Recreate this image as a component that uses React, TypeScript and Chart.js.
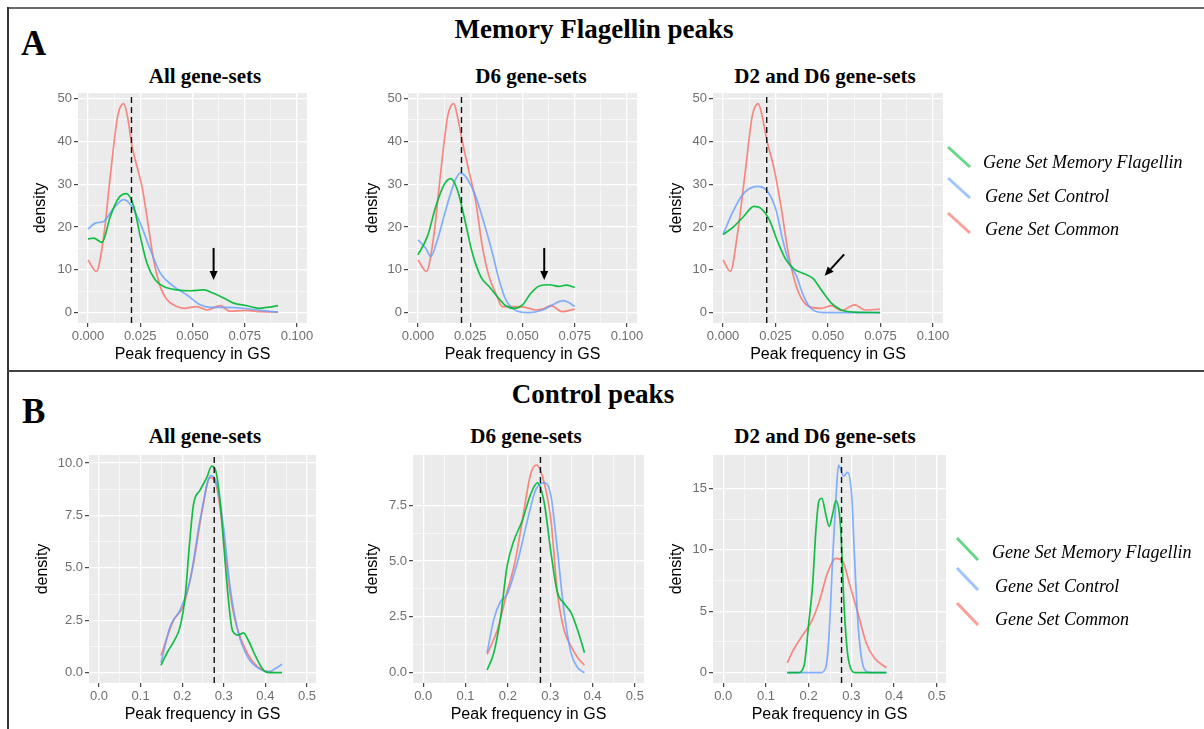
import React, { useEffect, useRef } from 'react';
import { Chart, registerables } from 'chart.js';
Chart.register(...registerables);

// ---------------- DATA ----------------
const seriesNames = ['Gene Set Memory Flagellin', 'Gene Set Control', 'Gene Set Common'];

const xTicksMem = [0, 0.025, 0.05, 0.075, 0.1];
const xLabelsMem = ['0.000', '0.025', '0.050', '0.075', '0.100'];
const yTicksMem = [0, 10, 20, 30, 40, 50];
const yLabelsMem = ['0', '10', '20', '30', '40', '50'];

const xTicksCtl = [0, 0.1, 0.2, 0.3, 0.4, 0.5];
const xLabelsCtl = ['0.0', '0.1', '0.2', '0.3', '0.4', '0.5'];
const yTicksCtlAll = [0, 2.5, 5, 7.5, 10];
const yLabelsCtlAll = ['0.0', '2.5', '5.0', '7.5', '10.0'];
const yTicksCtlD6 = [0, 2.5, 5, 7.5];
const yLabelsCtlD6 = ['0.0', '2.5', '5.0', '7.5'];
const yTicksCtlD26 = [0, 5, 10, 15];
const yLabelsCtlD26 = ['0', '5', '10', '15'];

const vlineMem = 0.0208;
const vlineCtl = 0.277;

// Memory Flagellin peaks — All gene-sets
const memAllGreen = [[0, 17.2], [0.0027, 17.4], [0.0067, 16.4], [0.0107, 22.5], [0.0147, 26.8], [0.0183, 27.8], [0.0219, 24.8], [0.025, 17.8], [0.0282, 11.5], [0.0322, 7.6], [0.0362, 6.1], [0.0426, 5.3], [0.049, 5.1], [0.0553, 5.3], [0.0601, 4.5], [0.0649, 3.4], [0.0697, 2.2], [0.0761, 1.6], [0.0817, 1.0], [0.0856, 1.2], [0.0909, 1.6]];
const memAllBlue = [[0, 19.5], [0.0035, 20.9], [0.0075, 21.3], [0.0123, 24.4], [0.0171, 26.4], [0.021, 24.8], [0.025, 20.9], [0.0298, 14.7], [0.0346, 9.2], [0.041, 6.1], [0.0474, 4.1], [0.0537, 1.8], [0.0585, 1.2], [0.0665, 1.2], [0.0745, 1.0], [0.0825, 0.5], [0.0909, 0.1]];
const memAllRed = [[0, 12.3], [0.004, 9.6], [0.0075, 17.8], [0.011, 33.4], [0.0142, 45.9], [0.0171, 48.8], [0.019, 45.5], [0.021, 39], [0.0235, 34], [0.026, 29], [0.028, 23], [0.0314, 12.3], [0.0346, 6], [0.0378, 3], [0.0426, 1.4], [0.046, 1], [0.052, 1.4], [0.057, 0.6], [0.0633, 1.6], [0.068, 0.3], [0.075, 0.5], [0.083, 0.2], [0.0909, 0.1]];
const memAllArrow = [0.0601, 15.1, 0.0601, 7.6];

// Memory Flagellin peaks — D6 gene-sets
const memD6Green = [[0, 13.5], [0.0045, 17.8], [0.0085, 24.8], [0.0125, 29.9], [0.0157, 31.3], [0.0188, 28.7], [0.022, 22.5], [0.026, 13.9], [0.03, 8.4], [0.034, 6.1], [0.038, 3.7], [0.042, 1.6], [0.046, 1.0], [0.05, 1.8], [0.054, 4.5], [0.058, 6.2], [0.0628, 6.5], [0.0676, 6.1], [0.0708, 6.4], [0.075, 5.9]];
const memD6Blue = [[0, 17], [0.0037, 15], [0.0061, 13.1], [0.0093, 17], [0.0133, 24], [0.0173, 30.3], [0.0201, 32.6], [0.0228, 31.8], [0.0276, 27.1], [0.0316, 20.9], [0.0356, 13.9], [0.0388, 7.6], [0.042, 3.0], [0.0468, 0.5], [0.0532, 0], [0.0596, 0.6], [0.0644, 1.8], [0.0692, 2.8], [0.0724, 2.3], [0.075, 1.4]];
const memD6Red = [[0, 12.3], [0.004, 9.6], [0.0075, 17.8], [0.011, 33.4], [0.0142, 45.9], [0.0171, 48.8], [0.019, 45.5], [0.0212, 40], [0.0244, 33], [0.0276, 26], [0.0308, 15.4], [0.034, 8.4], [0.0372, 4.5], [0.0404, 1.4], [0.046, 1.4], [0.0516, 1.2], [0.0564, 0.6], [0.0596, 0.8], [0.0636, 1.6], [0.0692, 0.2], [0.075, 0.8]];
const memD6Arrow = [0.0604, 15.1, 0.0604, 7.6];

// Memory Flagellin peaks — D2 and D6 gene-sets
const memD26Green = [[0, 18.2], [0.0051, 20.1], [0.0099, 22.5], [0.0147, 24.8], [0.0179, 24.4], [0.022, 21.7], [0.026, 16.6], [0.03, 12.3], [0.034, 10.1], [0.038, 9.2], [0.0428, 8.0], [0.0468, 5.3], [0.0516, 2.2], [0.0564, 0.6], [0.0628, 0.1], [0.0748, 0]];
const memD26Blue = [[0, 18.3], [0.0051, 24], [0.0099, 27.9], [0.0163, 29.5], [0.0212, 28.3], [0.0252, 24], [0.0284, 17], [0.0316, 11.5], [0.035, 8.5], [0.038, 4.3], [0.041, 1.5], [0.044, 0.3], [0.048, 0], [0.0748, 0]];
const memD26Red = [[0, 12.3], [0.0035, 9.6], [0.0067, 17.8], [0.0107, 33.4], [0.0139, 45.9], [0.0168, 48.8], [0.0188, 45.5], [0.0208, 40.4], [0.0244, 33.4], [0.0276, 24.8], [0.0308, 14.7], [0.034, 7.6], [0.0372, 3.4], [0.042, 1.2], [0.0468, 1.0], [0.0516, 1.6], [0.0564, 0.5], [0.0628, 1.8], [0.0676, 0.6], [0.0748, 0.8]];
const memD26Arrow = [0.0577, 13.6, 0.0484, 8.6];

// Control peaks — All gene-sets
const ctlAllGreen = [[0.149, 0.35], [0.165, 1.0], [0.18, 1.5], [0.195, 2.2], [0.207, 3.6], [0.217, 6.0], [0.227, 8.0], [0.243, 8.7], [0.259, 9.3], [0.271, 9.85], [0.281, 9.6], [0.291, 8.2], [0.301, 5.8], [0.311, 3.5], [0.321, 2.0], [0.335, 1.8], [0.347, 1.9], [0.36, 1.5], [0.376, 0.8], [0.396, 0.1], [0.41, 0], [0.44, 0]];
const ctlAllBlue = [[0.149, 0.47], [0.171, 2.2], [0.195, 3.0], [0.219, 4.4], [0.243, 7.3], [0.269, 9.4], [0.283, 9.0], [0.299, 7.0], [0.315, 4.1], [0.335, 1.9], [0.359, 0.7], [0.388, 0.16], [0.408, 0.05], [0.424, 0.2], [0.44, 0.4]];
const ctlAllRed = [[0.149, 0.82], [0.179, 2.5], [0.203, 3.2], [0.227, 5.2], [0.247, 7.6], [0.267, 9.3], [0.283, 8.85], [0.299, 6.6], [0.315, 3.8], [0.331, 2.2], [0.356, 0.95], [0.38, 0.3], [0.4, 0.08], [0.42, 0.02]];

// Control peaks — D6 gene-sets
const ctlD6Green = [[0.151, 0.12], [0.167, 0.9], [0.183, 2.5], [0.198, 4.75], [0.214, 5.9], [0.234, 6.8], [0.254, 8.0], [0.27, 8.5], [0.286, 7.6], [0.302, 5.35], [0.317, 3.6], [0.333, 3.1], [0.349, 2.7], [0.365, 1.9], [0.381, 0.9]];
const ctlD6Blue = [[0.151, 0.9], [0.167, 2.4], [0.183, 3.2], [0.198, 3.5], [0.222, 4.9], [0.246, 6.8], [0.266, 8.2], [0.288, 8.5], [0.302, 7.9], [0.317, 5.5], [0.333, 2.7], [0.349, 0.9], [0.365, 0.22], [0.381, 0]];
const ctlD6Red = [[0.151, 0.82], [0.175, 1.9], [0.198, 3.6], [0.218, 5.05], [0.234, 6.8], [0.254, 8.9], [0.268, 9.3], [0.286, 8.5], [0.302, 6.8], [0.317, 3.6], [0.333, 1.9], [0.349, 1.2], [0.365, 0.67], [0.381, 0.34]];

// Control peaks — D2 and D6 gene-sets
const ctlD26Green = [[0.15, 0], [0.175, 0], [0.189, 0.54], [0.201, 4.3], [0.209, 7.0], [0.217, 11.6], [0.224, 14.0], [0.231, 14.2], [0.24, 12.9], [0.248, 11.9], [0.256, 12.9], [0.264, 14.0], [0.272, 12.9], [0.276, 11.1], [0.283, 5.4], [0.291, 1.6], [0.299, 0.3], [0.31, 0], [0.382, 0]];
const ctlD26Blue = [[0.15, 0], [0.228, 0], [0.24, 0.4], [0.248, 3.2], [0.256, 9.2], [0.264, 14.3], [0.27, 16.9], [0.282, 16.0], [0.291, 16.3], [0.301, 14.3], [0.307, 9.7], [0.315, 4.3], [0.323, 1.35], [0.332, 0.2], [0.345, 0], [0.382, 0]];
const ctlD26Red = [[0.15, 0.8], [0.165, 1.9], [0.185, 3.0], [0.205, 4.05], [0.224, 5.7], [0.244, 8.1], [0.264, 9.3], [0.28, 9.05], [0.295, 7.3], [0.315, 4.9], [0.335, 2.4], [0.354, 1.2], [0.382, 0.4]];

// ---------------- STYLE ----------------
const SANS = '"Liberation Sans", Arial, Helvetica, sans-serif';
const SERIF = '"Liberation Serif", "Times New Roman", serif';
const GREEN = 'rgba(0,186,56,0.92)';
const BLUE = 'rgba(97,156,255,0.78)';
const RED = 'rgba(248,118,109,0.85)';
const LEG_GREEN = 'rgba(0,186,56,0.6)';
const LEG_BLUE = 'rgba(97,156,255,0.6)';
const LEG_RED = 'rgba(248,118,109,0.7)';
const TICK_COL = '#6e6e6e';
const PAD_T = 12;
const PAD_R = 24;
const X_AXIS_H = 41;

type Spec = {
  rect: [number, number, number, number];
  yAxisW: number;
  xRange: [number, number];
  yRange: [number, number];
  xTicks: number[];
  xLabels: string[];
  yTicks: number[];
  yLabels: string[];
  green: number[][];
  blue: number[][];
  red: number[][];
  vline: number;
  arrow?: number[];
};

const midpoints = (t: number[]) => {
  const m: number[] = [];
  for (let i = 0; i < t.length - 1; i++) m.push((t[i] + t[i + 1]) / 2);
  return m;
};
const near = (a: number, b: number) => Math.abs(a - b) < 1e-9;

const bgPlugin = {
  id: 'ggBg',
  beforeDraw(chart: any) {
    const { ctx, chartArea: a } = chart;
    ctx.save();
    ctx.fillStyle = '#EBEBEB';
    ctx.fillRect(a.left, a.top, a.right - a.left, a.bottom - a.top);
    ctx.restore();
  },
};

const arrowPlugin = {
  id: 'ggArrow',
  afterDatasetsDraw(chart: any, _args: any, opts: any) {
    const c = opts && opts.coords;
    if (!c || c.length < 4) return;
    const xs = chart.scales.x;
    const ys = chart.scales.y;
    const x1 = xs.getPixelForValue(c[0]);
    const y1 = ys.getPixelForValue(c[1]);
    const x2 = xs.getPixelForValue(c[2]);
    const y2 = ys.getPixelForValue(c[3]);
    const ang = Math.atan2(y2 - y1, x2 - x1);
    const head = 9;
    const half = 4;
    const bx = x2 - head * Math.cos(ang);
    const by = y2 - head * Math.sin(ang);
    const ctx = chart.ctx;
    ctx.save();
    ctx.strokeStyle = '#000';
    ctx.fillStyle = '#000';
    ctx.lineWidth = 2;
    ctx.beginPath();
    ctx.moveTo(x1, y1);
    ctx.lineTo(bx, by);
    ctx.stroke();
    ctx.beginPath();
    ctx.moveTo(x2, y2);
    ctx.lineTo(bx + half * Math.sin(ang), by - half * Math.cos(ang));
    ctx.lineTo(bx - half * Math.sin(ang), by + half * Math.cos(ang));
    ctx.closePath();
    ctx.fill();
    ctx.restore();
  },
};

function line(pts: number[][], color: string, label: string) {
  return {
    label,
    data: pts.map(([x, y]) => ({ x, y })),
    borderColor: color,
    borderWidth: 1.7,
    pointRadius: 0,
    fill: false,
    cubicInterpolationMode: 'monotone',
  };
}

function axis(ticks: number[], labels: string[], range: [number, number], horizontal: boolean, size: number, title: string) {
  const minor = midpoints(ticks);
  const all = [...ticks, ...minor].sort((a, b) => a - b);
  const isMajor = (v: number) => ticks.some((t) => near(t, v));
  return {
    type: 'linear',
    min: range[0],
    max: range[1],
    afterBuildTicks: (ax: any) => {
      ax.ticks = all.map((v) => ({ value: v }));
    },
    afterFit: (s: any) => {
      if (horizontal) s.height = size;
      else s.width = size;
      s.paddingLeft = 0;
      s.paddingRight = 0;
      s.paddingTop = 0;
      s.paddingBottom = 0;
    },
    ticks: {
      autoSkip: false,
      maxRotation: 0,
      minRotation: 0,
      padding: 2,
      color: TICK_COL,
      font: { family: SANS, size: 13 },
      callback: (v: number) => {
        const i = ticks.findIndex((t) => near(t, v));
        return i >= 0 ? labels[i] : '';
      },
    },
    grid: {
      color: '#ffffff',
      lineWidth: (c: any) => (c.tick && isMajor(c.tick.value) ? 1.3 : 0.6),
      tickColor: (c: any) => (c.tick && isMajor(c.tick.value) ? '#333333' : 'rgba(0,0,0,0)'),
      tickWidth: 1.1,
      tickLength: 4,
      drawTicks: true,
    },
    border: { display: false },
    title: {
      display: true,
      text: title,
      color: '#000',
      font: { family: SANS, size: 16 },
      padding: 0,
    },
  };
}

function Panel({ spec }: { spec: Spec }) {
  const ref = useRef<HTMLCanvasElement>(null);
  const [l, t, r, b] = spec.rect;
  const cl = l - spec.yAxisW;
  const ct = t - PAD_T;
  const cw = r + PAD_R - cl;
  const ch = b + X_AXIS_H - ct;
  useEffect(() => {
    const vl = {
      label: 'vline',
      data: [
        { x: spec.vline, y: spec.yRange[0] },
        { x: spec.vline, y: spec.yRange[1] },
      ],
      borderColor: '#111',
      borderWidth: 1.4,
      borderDash: [6, 4],
      pointRadius: 0,
      fill: false,
      tension: 0,
    };
    const chart = new Chart(ref.current as HTMLCanvasElement, {
      type: 'line',
      data: {
        datasets: [
          vl,
          line(spec.green, GREEN, seriesNames[0]),
          line(spec.blue, BLUE, seriesNames[1]),
          line(spec.red, RED, seriesNames[2]),
        ] as any,
      },
      options: {
        animation: false,
        responsive: false,
        maintainAspectRatio: false,
        devicePixelRatio: 1,
        layout: { padding: { top: PAD_T, right: PAD_R, left: 0, bottom: 0 } },
        events: [],
        plugins: {
          legend: { display: false },
          tooltip: { enabled: false },
          ggArrow: { coords: spec.arrow || null },
        } as any,
        scales: {
          x: axis(spec.xTicks, spec.xLabels, spec.xRange, true, X_AXIS_H, 'Peak frequency in GS'),
          y: axis(spec.yTicks, spec.yLabels, spec.yRange, false, spec.yAxisW, 'density'),
        } as any,
      },
      plugins: [bgPlugin, arrowPlugin],
    } as any);
    return () => chart.destroy();
  }, []);
  return (
    <canvas
      ref={ref}
      width={cw}
      height={ch}
      style={{ position: 'absolute', left: cl, top: ct, width: cw, height: ch }}
    />
  );
}

const memX: [number, number] = [-0.0048, 0.1048];
const memY: [number, number] = [-2.44, 51.3];
const ctlX: [number, number] = [-0.024, 0.5216];

const panels: Spec[] = [
  { rect: [78, 93, 307, 323], yAxisW: 47, xRange: memX, yRange: memY, xTicks: xTicksMem, xLabels: xLabelsMem, yTicks: yTicksMem, yLabels: yLabelsMem, green: memAllGreen, blue: memAllBlue, red: memAllRed, vline: vlineMem, arrow: memAllArrow },
  { rect: [408, 93, 637, 323], yAxisW: 45, xRange: memX, yRange: memY, xTicks: xTicksMem, xLabels: xLabelsMem, yTicks: yTicksMem, yLabels: yLabelsMem, green: memD6Green, blue: memD6Blue, red: memD6Red, vline: vlineMem, arrow: memD6Arrow },
  { rect: [713, 93, 943, 323], yAxisW: 46, xRange: memX, yRange: memY, xTicks: xTicksMem, xLabels: xLabelsMem, yTicks: yTicksMem, yLabels: yLabelsMem, green: memD26Green, blue: memD26Blue, red: memD26Red, vline: vlineMem, arrow: memD26Arrow },
  { rect: [89, 455, 316, 683], yAxisW: 56, xRange: ctlX, yRange: [-0.49, 10.38], xTicks: xTicksCtl, xLabels: xLabelsCtl, yTicks: yTicksCtlAll, yLabels: yLabelsCtlAll, green: ctlAllGreen, blue: ctlAllBlue, red: ctlAllRed, vline: vlineCtl },
  { rect: [413, 455, 644, 683], yAxisW: 50, xRange: ctlX, yRange: [-0.46, 9.75], xTicks: xTicksCtl, xLabels: xLabelsCtl, yTicks: yTicksCtlD6, yLabels: yLabelsCtlD6, green: ctlD6Green, blue: ctlD6Blue, red: ctlD6Red, vline: vlineCtl },
  { rect: [713, 455, 946, 683], yAxisW: 46, xRange: ctlX, yRange: [-0.84, 17.72], xTicks: xTicksCtl, xLabels: xLabelsCtl, yTicks: yTicksCtlD26, yLabels: yLabelsCtlD26, green: ctlD26Green, blue: ctlD26Blue, red: ctlD26Red, vline: vlineCtl },
];

function Txt(props: { x: number; base: number; size: number; serif?: boolean; bold?: boolean; italic?: boolean; center?: boolean; children: any }) {
  const asc = props.serif ? 0.8375 : 0.8465;
  return (
    <div
      style={{
        position: 'absolute',
        left: props.x,
        top: props.base - asc * props.size,
        transform: props.center ? 'translateX(-50%)' : undefined,
        fontFamily: props.serif ? SERIF : SANS,
        fontSize: props.size,
        lineHeight: props.size + 'px',
        fontWeight: props.bold ? 700 : 400,
        fontStyle: props.italic ? 'italic' : 'normal',
        whiteSpace: 'nowrap',
        color: '#000',
      }}
    >
      {props.children}
    </div>
  );
}

const panelTitles = ['All gene-sets', 'D6 gene-sets', 'D2 and D6 gene-sets'];

export default function App() {
  const legendColors = [LEG_GREEN, LEG_BLUE, LEG_RED];
  const topLeg = [
    { y1: 147, y2: 167, tx: 983, base: 168 },
    { y1: 178, y2: 198, tx: 985, base: 202 },
    { y1: 213, y2: 233, tx: 985, base: 235 },
  ];
  const botLeg = [
    { y1: 538, y2: 560, tx: 992, base: 558 },
    { y1: 568, y2: 590, tx: 995, base: 592 },
    { y1: 603, y2: 625, tx: 995, base: 625 },
  ];
  return (
    <div style={{ position: 'fixed', left: 0, top: 0, width: 1204, height: 729, background: '#fff', overflow: 'hidden' }}>
      <div style={{ position: 'absolute', left: 7, top: 7, width: 1197, height: 2, background: '#6a6a6a' }} />
      <div style={{ position: 'absolute', left: 7, top: 7, width: 2, height: 722, background: '#333' }} />
      <div style={{ position: 'absolute', left: 7, top: 370, width: 1197, height: 2, background: '#444' }} />

      <Txt x={21} base={55} size={35} serif bold>A</Txt>
      <Txt x={22} base={423} size={35} serif bold>B</Txt>
      <Txt x={594} base={39} size={27} serif bold center>Memory Flagellin peaks</Txt>
      <Txt x={593} base={404} size={27} serif bold center>Control peaks</Txt>

      <Txt x={205} base={84} size={21} serif bold center>{panelTitles[0]}</Txt>
      <Txt x={531} base={84} size={21} serif bold center>{panelTitles[1]}</Txt>
      <Txt x={825} base={84} size={21} serif bold center>{panelTitles[2]}</Txt>
      <Txt x={205} base={444} size={21} serif bold center>{panelTitles[0]}</Txt>
      <Txt x={526} base={444} size={21} serif bold center>{panelTitles[1]}</Txt>
      <Txt x={825} base={444} size={21} serif bold center>{panelTitles[2]}</Txt>

      {panels.map((p, i) => (
        <Panel key={i} spec={p} />
      ))}

      <svg width={1204} height={729} style={{ position: 'absolute', left: 0, top: 0, pointerEvents: 'none' }}>
        {topLeg.map((g, i) => (
          <line key={'t' + i} x1={948} y1={g.y1} x2={970} y2={g.y2} stroke={legendColors[i]} strokeWidth={3} />
        ))}
        {botLeg.map((g, i) => (
          <line key={'b' + i} x1={957} y1={g.y1} x2={978} y2={g.y2} stroke={legendColors[i]} strokeWidth={3} />
        ))}
      </svg>
      {topLeg.map((g, i) => (
        <Txt key={'tt' + i} x={g.tx} base={g.base} size={18} serif italic>{seriesNames[i]}</Txt>
      ))}
      {botLeg.map((g, i) => (
        <Txt key={'bt' + i} x={g.tx} base={g.base} size={18} serif italic>{seriesNames[i]}</Txt>
      ))}
    </div>
  );
}
